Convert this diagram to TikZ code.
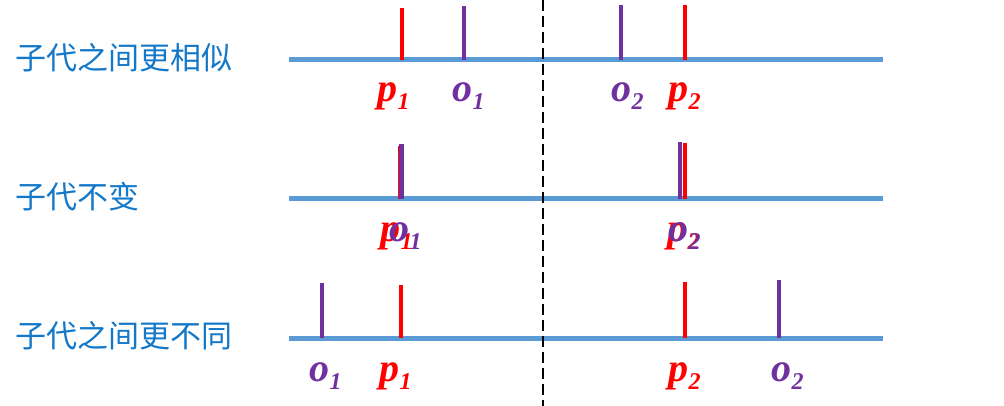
\documentclass[tikz,border=0pt]{standalone}
\usepackage{fontspec}
\setmainfont{Liberation Serif}
\newfontfamily\cjk{Noto Sans CJK SC}
\definecolor{axisblue}{RGB}{91,155,213}
\definecolor{labblue}{RGB}{20,120,200}
\definecolor{pred}{RGB}{255,0,0}
\definecolor{opurple}{RGB}{112,48,160}
\newcommand{\varlab}[2]{{\fontsize{40}{46}\selectfont\bfseries\itshape #1}\kern0.5pt\raisebox{-8pt}{\fontsize{24}{28}\selectfont\bfseries\itshape #2}}
\begin{document}
\begin{tikzpicture}[x=1pt,y=-1pt,
  axisline/.style={draw=axisblue,line width=5pt},
  ptick/.style={draw=pred,line width=4.5pt},
  otick/.style={draw=opurple,line width=4.5pt},
  plab/.style={text=pred,anchor=base west,inner sep=0pt},
  olab/.style={text=opurple,anchor=base west,inner sep=0pt},
  rowlab/.style={text=labblue,anchor=west,inner sep=0pt,font=\cjk\fontsize{31}{36}\selectfont}]
\useasboundingbox (0,0) rectangle (1004,406);
% row labels
\node[rowlab] (r1) at (15,57.5) {子代之间更相似};
\node[rowlab] (r2) at (15,197) {子代不变};
\node[rowlab] (r3) at (15,336) {子代之间更不同};
% axes
\coordinate (a1l) at (289,60); \coordinate (a1r) at (883,60);
\coordinate (a2l) at (289,199); \coordinate (a2r) at (883,199);
\coordinate (a3l) at (289,338); \coordinate (a3r) at (883,338);
\draw[axisline] (a1l) -- (a1r);
\draw[axisline] (a2l) -- (a2r);
\draw[axisline] (a3l) -- (a3r);
% dashed divider
\coordinate (dtop) at (543,0); \coordinate (dbot) at (543,406);
\draw[black,line width=2.5pt,dash pattern=on 11pt off 5pt] (dtop) -- (dbot);
% row 1
\draw[ptick] (402,8) -- (402,60);
\draw[otick] (464,6) -- (464,60);
\draw[otick] (621,5) -- (621,60);
\draw[ptick] (685,5) -- (685,60);
\node[plab] (p1a) at (377,102) {\varlab{p}{1}};
\node[olab] (o1a) at (452,102) {\varlab{o}{1}};
\node[olab] (o2a) at (611,102) {\varlab{o}{2}};
\node[plab] (p2a) at (668,102) {\varlab{p}{2}};
% row 2
\draw[ptick] (400,146) -- (400,199);
\draw[otick] (401.5,144) -- (401.5,199);
\draw[otick] (680,142) -- (680,199);
\draw[ptick] (685,143) -- (685,199);
\node[plab] (p1b) at (380,241) {\varlab{p}{1}};
\node[olab] (o1b) at (389,241) {\varlab{o}{1}};
\node[plab] (p2b) at (667,241) {\varlab{p}{2}};
\node[olab] (o2b) at (668,241) {\varlab{o}{2}};
% row 3
\draw[otick] (322,283) -- (322,338);
\draw[ptick] (401,285) -- (401,338);
\draw[ptick] (685,282) -- (685,338);
\draw[otick] (779,280) -- (779,338);
\node[olab] (o1c) at (309,381) {\varlab{o}{1}};
\node[plab] (p1c) at (379,381) {\varlab{p}{1}};
\node[plab] (p2c) at (668,381) {\varlab{p}{2}};
\node[olab] (o2c) at (771,381) {\varlab{o}{2}};
\end{tikzpicture}
\end{document}
